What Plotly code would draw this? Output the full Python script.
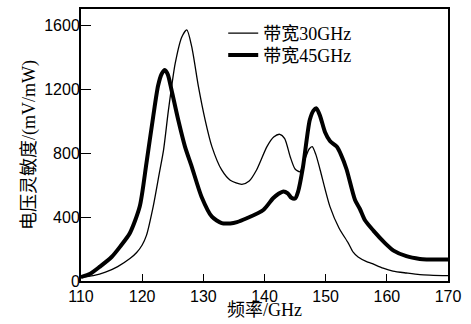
import plotly.graph_objects as go

# Frequency (GHz) / sensitivity (mV/mW) — bandwidth 30 GHz (thin line)
freq_30 = [110, 112, 114, 116, 118, 119.1, 120, 120.7, 121.8, 122.8, 123.5, 124.3, 125.4, 126.5,
           127.3, 128.1, 129.2, 130.3, 131.4, 133, 134.4, 136.3, 137.5, 138.7, 140.4, 141.5,
           142.5, 143.3, 144.2, 145.0, 145.8, 146.6, 147.3, 147.8, 148.4, 149.1, 150.7, 152.2,
           153.7, 154.5, 155.3, 156.7, 157.5, 159.4, 161, 163.2, 165.4, 170]
sens_30 = [22, 33, 55, 90, 140, 178, 225, 285, 465, 673, 820, 1069, 1360, 1527,
           1569, 1465, 1215, 1006, 840, 694, 630, 604, 625, 694, 840, 900,
           917, 890, 777, 700, 683, 760, 825, 840, 790, 694, 465, 330,
           237, 180, 150, 121, 110, 80, 62, 50, 40, 33]

# bandwidth 45 GHz (thick line)
freq_45 = [110, 111.5, 113.1, 115, 116.4, 118, 119.6, 120.7, 121.8, 122.6, 123.2, 123.7, 124.2,
           124.8, 125.9, 127, 128.1, 129.7, 131.4, 133, 134.4, 135.5, 137.1, 139.8, 141.4,
           142.3, 143.1, 143.8, 144.4, 145.0, 145.5, 146.3, 147.4, 148.0, 148.5, 149.1, 149.9,
           150.7, 151.8, 152.5, 153.4, 154.8, 155.6, 156.4, 157.8, 159.7, 161.1, 163.2, 165.4,
           166.5, 170]
sens_45 = [25, 45, 90, 150, 215, 300, 465, 737, 1027, 1220, 1295, 1319, 1290,
           1194, 1006, 840, 715, 527, 402, 362, 360, 368, 392, 444, 517,
           545, 560, 548, 520, 515, 560, 715, 1006, 1065, 1079, 1030, 930,
           875, 840, 790, 700, 506, 450, 381, 315, 237, 190, 155, 138,
           135, 135]

names = ["带宽30GHz", "带宽45GHz"]
x_ticks = [110, 120, 130, 140, 150, 160, 170]
y_ticks = [0, 400, 800, 1200, 1600]

fig = go.Figure()
fig.add_trace(go.Scatter(x=freq_30, y=sens_30, mode="lines", name=names[0], legend="legend",
                         line=dict(color="black", width=1.3, shape="spline", smoothing=0.7)))
fig.add_trace(go.Scatter(x=freq_45, y=sens_45, mode="lines", name=names[1], legend="legend2",
                         line=dict(color="black", width=4, shape="spline", smoothing=0.7)))

tick_font = dict(family="Liberation Sans, Arial, sans-serif", size=16, color="black")
title_font = dict(family="Liberation Serif, Noto Sans CJK SC, serif", size=18, color="black")
leg_font = dict(family="Liberation Serif, Noto Sans CJK SC, serif", size=18, color="black")

fig.update_layout(
    width=471, height=324,
    margin=dict(l=81, r=23, t=9, b=43, autoexpand=False),
    plot_bgcolor="white", paper_bgcolor="white",
    showlegend=True,
    legend=dict(x=0.3875, y=0.978, xanchor="left", yanchor="top",
                bgcolor="rgba(0,0,0,0)", borderwidth=0, font=leg_font, itemwidth=30),
    legend2=dict(x=0.3875, y=0.898, xanchor="left", yanchor="top",
                 bgcolor="rgba(0,0,0,0)", borderwidth=0, font=leg_font, itemwidth=30),
    xaxis=dict(range=[110, 170], tickvals=x_ticks, ticks="inside", ticklen=7, tickwidth=1.2,
               tickcolor="black", showline=True, linecolor="black", linewidth=2, mirror=True,
               showgrid=False, zeroline=False, tickfont=tick_font, automargin=False),
    yaxis=dict(range=[0, 1700], tickvals=y_ticks, ticks="inside", ticklen=10, tickwidth=1.2,
               tickcolor="black", showline=True, linecolor="black", linewidth=2, mirror=True,
               showgrid=False, zeroline=False, tickfont=tick_font, automargin=False,
               ticklabelstandoff=-4,
               title=dict(text="电压灵敏度/(mV/mW)", font=title_font, standoff=4)),
    annotations=[dict(text="频率/GHz", xref="paper", yref="paper", x=0.5, y=0,
                      xanchor="center", yanchor="top", yshift=-17, showarrow=False,
                      font=title_font)],
)

fig.write_html("out.html", config={"displayModeBar": False},
               post_script="document.body.style.margin='0';document.body.style.overflow='hidden';")
